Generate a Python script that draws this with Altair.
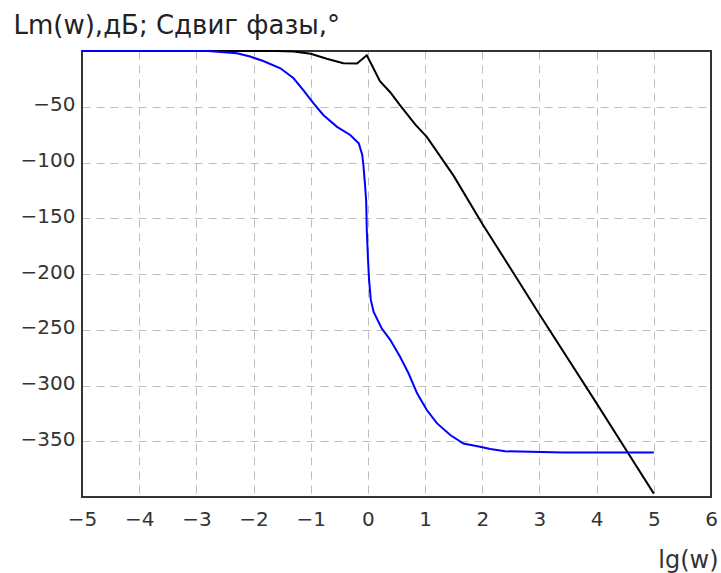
import altair as alt
import pandas as pd

# Amplitude (Lm, dB) curve - black
lm_x = [-5, -1.6, -1.3, -1.0, -0.72, -0.43, -0.19, -0.02, 0.07, 0.21, 0.39, 0.56, 0.83, 1.03, 1.5, 2.0, 2.31, 3.01, 4.0, 4.53, 5.0]
lm_y = [0, 0, -0.5, -2.4, -6.9, -11, -11.3, -3.9, -12.8, -27, -37, -48.5, -66, -77, -112, -155, -180, -237, -316, -359, -397]

# Phase shift (degrees) curve - blue
ph_x = [-5, -2.8, -2.29, -2.06, -1.83, -1.53, -1.30, -1.13, -0.95, -0.78, -0.54, -0.31, -0.16, -0.10, -0.08,
        -0.05, -0.03, -0.02, 0.0, 0.02, 0.05, 0.10, 0.24, 0.39, 0.56, 0.71, 0.86, 1.03, 1.21, 1.44, 1.67,
        1.96, 2.14, 2.40, 3.42, 5.0]
ph_y = [0, 0, -2, -5, -9, -15.5, -24.5, -35, -47, -57.4, -68, -75.3, -82.8, -93, -102,
        -120, -135, -160, -185, -205, -223, -234, -248.7, -259, -274, -289, -307, -322, -334, -344.4, -352,
        -355, -357, -359, -360, -360]

x_ticks = [-5, -4, -3, -2, -1, 0, 1, 2, 3, 4, 5, 6]
y_ticks = [-50, -100, -150, -200, -250, -300, -350]

W, H = 629, 446
FONT = "DejaVu Sans"

lm_df = pd.DataFrame({"x": lm_x, "y": lm_y})
ph_df = pd.DataFrame({"x": ph_x, "y": ph_y})

xs = alt.Scale(domain=[-5, 6], nice=False, zero=False)
ys = alt.Scale(domain=[-400, 0], nice=False, zero=False)

xax = alt.Axis(values=x_ticks, format="d", title="lg(w)", grid=True, gridDash=[8, 6],
               gridColor="#bdbdbd", gridWidth=1, domain=False, ticks=False, labelFont=FONT,
               labelFontSize=20, labelColor="#333333", labelPadding=12, labelFlush=False,
               labelOverlap=False, titleFont=FONT, titleFontSize=24, titleFontWeight="normal",
               titleColor="#333333", titleAnchor="end", titleAlign="right", titleX=W + 7, titleY=70,
               titleBaseline="alphabetic")
yax = alt.Axis(values=y_ticks, format="d", title="Lm(w),дБ; Сдвиг фазы,°", grid=True,
               gridDash=[8, 6], gridColor="#bdbdbd", gridWidth=1, domain=False, ticks=False,
               labelFont=FONT, labelFontSize=20, labelColor="#333333", labelPadding=7,
               labelOffset=-2, labelOverlap=False, titleFont=FONT, titleFontSize=26,
               titleFontWeight="normal", titleColor="#222222", titleAngle=0, titleAlign="left",
               titleX=-69, titleY=-18, titleBaseline="alphabetic")

frame = alt.Chart(lm_df).mark_rect(filled=False, stroke="#333333", strokeWidth=2).encode(
    x=alt.value(0), x2=alt.value(W), y=alt.value(0), y2=alt.value(H))

lm_line = alt.Chart(lm_df).mark_line(color="#000000", strokeWidth=2).encode(
    x=alt.X("x:Q", scale=xs, axis=xax),
    y=alt.Y("y:Q", scale=ys, axis=yax),
    order="x:Q")

ph_line = alt.Chart(ph_df).mark_line(color="#0000ff", strokeWidth=2).encode(
    x=alt.X("x:Q", scale=xs),
    y=alt.Y("y:Q", scale=ys),
    order="x:Q")

chart = alt.layer(frame, lm_line, ph_line).properties(
    width=W, height=H,
    autosize=alt.AutoSizeParams(type="none"),
    padding={"left": 82, "top": 51, "right": 10, "bottom": 76},
    background="white",
).configure_view(stroke=None)

chart.save("out.html", embed_options={"renderer": "svg", "actions": False})
